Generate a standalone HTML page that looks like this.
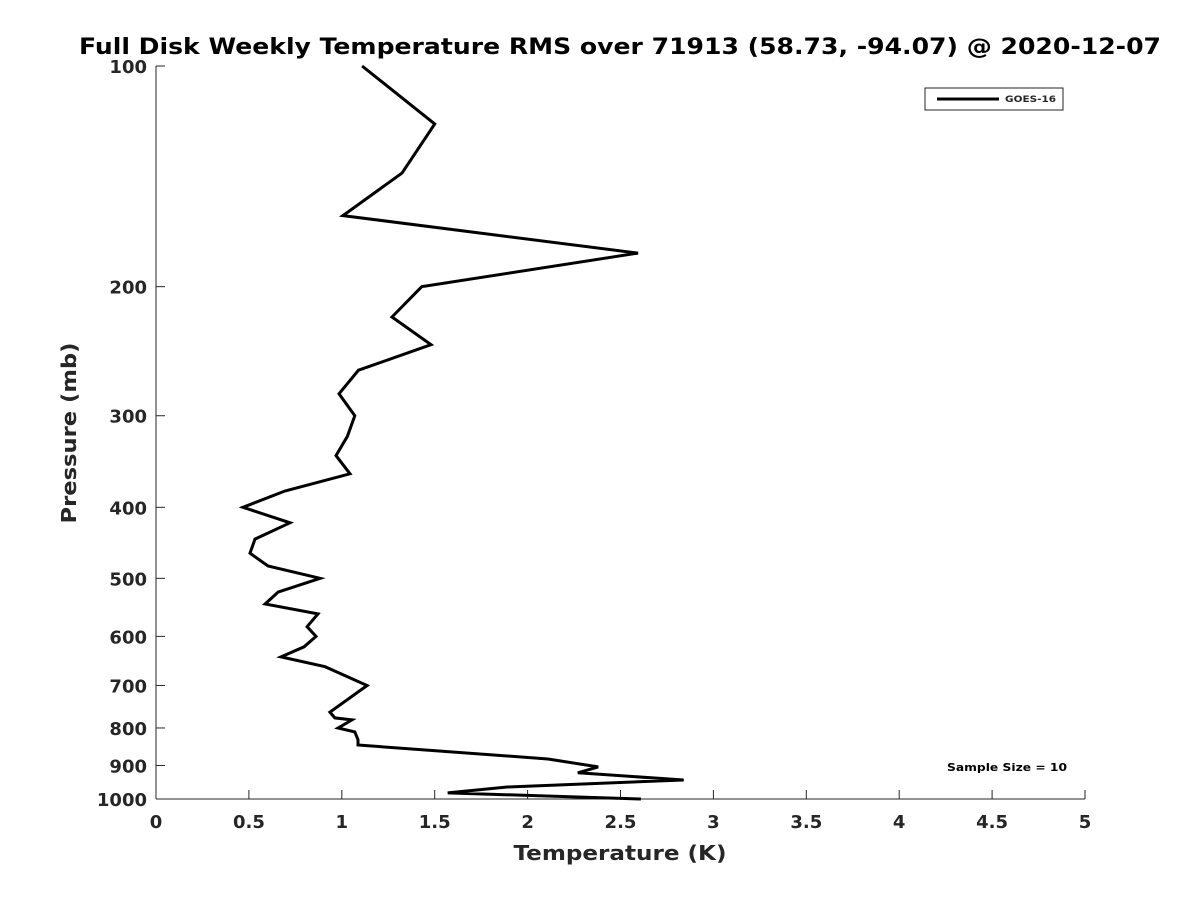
<!DOCTYPE html>
<html><head><meta charset="utf-8"><style>
body{margin:0;background:#fff;}
svg text{font-family:"DejaVu Sans","Liberation Sans",sans-serif;font-weight:bold;fill:#262626;}
</style></head><body>
<svg id="chart" width="1200" height="900">
<text x="620" y="54" text-anchor="middle" font-size="22" textLength="1082" lengthAdjust="spacingAndGlyphs" style="fill:#000">Full Disk Weekly Temperature RMS over 71913 (58.73, -94.07) @ 2020-12-07</text>
<g id="axes"></g>
<path id="line" fill="none" stroke="#000" stroke-width="3" stroke-linejoin="miter"/>
<g>
<rect x="925" y="88" width="138" height="22" fill="#fff" stroke="#262626" stroke-width="1"/>
<line x1="937" y1="99" x2="999" y2="99" stroke="#000" stroke-width="3"/>
<text x="1005" y="102" font-size="9" textLength="51" lengthAdjust="spacingAndGlyphs">GOES-16</text>
</g>
<text x="1007" y="771" text-anchor="middle" font-size="11" textLength="120" lengthAdjust="spacingAndGlyphs" style="fill:#000">Sample Size = 10</text>
<text x="620" y="860" text-anchor="middle" font-size="20" textLength="213" lengthAdjust="spacingAndGlyphs">Temperature (K)</text>
<text transform="translate(76,433) rotate(-90)" text-anchor="middle" font-size="20" textLength="181" lengthAdjust="spacingAndGlyphs">Pressure (mb)</text>
</svg>
<script>
const temps=[1.109,1.50,1.324,1.006,2.594,1.43,1.27,1.48,1.09,0.985,1.07,1.03,0.969,1.044,0.694,0.468,0.721,0.533,0.506,0.603,0.883,0.657,0.587,0.872,0.813,0.861,0.797,0.673,0.91,1.136,0.936,0.963,1.055,0.98,1.07,1.087,1.087,2.11,2.38,2.27,2.84,1.89,1.57,2.61];
const pressures=[100,120,140,160,180,200,220,240,260,280,300,320,340,360,380,400,420,442,462,481,500,522,542,559,582,600,620,640,660,700,761,775,780,800,810,830,844,882,904,921,942,963,981,1000];
const xTicks=[0,0.5,1,1.5,2,2.5,3,3.5,4,4.5,5];
const xTickLabels=["0","0.5","1","1.5","2","2.5","3","3.5","4","4.5","5"];
const yTicks=[100,200,300,400,500,600,700,800,900,1000];
const L=156,R=1085,T=66,B=799;
const xs=v=>L+(v-0)/(5-0)*(R-L);
const ys=p=>T+(Math.log10(p)-2)/(3-2)*(B-T);
const ns="http://www.w3.org/2000/svg";
const ax=document.getElementById('axes');
function mk(tag,attrs,txt){const e=document.createElementNS(ns,tag);for(const k in attrs)e.setAttribute(k,attrs[k]);if(txt!==undefined)e.textContent=txt;ax.appendChild(e);return e;}
let e=mk('line',{x1:L,y1:B,x2:R,y2:B,stroke:'#262626','stroke-width':1});


e=mk('line',{x1:L,y1:T,x2:L,y2:B,stroke:'#262626','stroke-width':1});


xTicks.forEach((v,i)=>{
 const x=xs(v);
 mk('line',{x1:x,y1:B,x2:x,y2:B-9,stroke:'#262626'});
 const t=mk('text',{x:x,y:B+29,'text-anchor':'middle','font-size':18},xTickLabels[i]);
 
 
});
yTicks.forEach(p=>{
 const y=ys(p);
 mk('line',{x1:L,y1:y,x2:L+9,y2:y,stroke:'#262626'});
 const t=mk('text',{x:L-9,y:y+7,'text-anchor':'end','font-size':18},String(p));
 
 
});
document.getElementById('line').setAttribute('d',temps.map((t,i)=>(i?'L':'M')+xs(t).toFixed(1)+','+ys(pressures[i]).toFixed(1)).join(''));
</script>
</body></html>
